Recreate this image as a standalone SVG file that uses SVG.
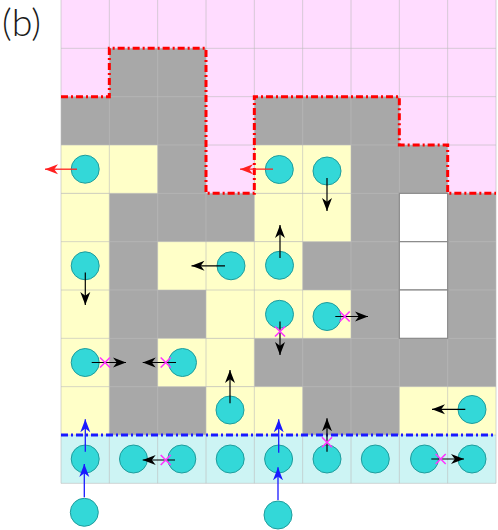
<svg xmlns="http://www.w3.org/2000/svg" width="498" height="530" viewBox="0 0 498 530">
<style>
.g{fill:#a8a8a8}
.p{fill:#ffdcff}
.y{fill:#ffffc8}
.c{fill:#cdf4f4}
.w{fill:#ffffff;stroke:#8a8a8a;stroke-width:1.2}
.grid{fill:none;stroke:#bcbcbc;stroke-opacity:0.6;stroke-width:1}
.node circle{fill:#33d8d8;stroke:#1f9c9c;stroke-width:1}
.ab{stroke:#000;stroke-width:1.2;fill:none;marker-end:url(#mb)}
.ar{stroke:#ff2020;stroke-width:1.3;fill:none;marker-end:url(#mr)}
.au{stroke:#1a1aff;stroke-width:1.3;fill:none;marker-end:url(#mu)}
.x{stroke:#ff33ff;stroke-width:1.6;fill:none}
.lbl{font-family:"Lato","Liberation Sans",sans-serif;font-weight:300;font-size:37px;fill:#1a1a1a}
</style>
<defs>
<marker id="mb" markerUnits="userSpaceOnUse" markerWidth="14" markerHeight="11" refX="13" refY="5.5" orient="auto"><path d="M0,0.5 L13,5.5 L0,10.5 L3.8,5.5 Z" fill="#000"/></marker>
<marker id="mr" markerUnits="userSpaceOnUse" markerWidth="14" markerHeight="11" refX="13" refY="5.5" orient="auto"><path d="M0,0.5 L13,5.5 L0,10.5 L3.8,5.5 Z" fill="#ff2020"/></marker>
<marker id="mu" markerUnits="userSpaceOnUse" markerWidth="14" markerHeight="11" refX="13" refY="5.5" orient="auto"><path d="M0,0.5 L13,5.5 L0,10.5 L3.8,5.5 Z" fill="#1a1aff"/></marker>
</defs>
<text class="lbl" x="2" y="36" textLength="39" lengthAdjust="spacingAndGlyphs">(b)</text>
<g id="cells">
<rect class="g" x="61" y="0" width="435" height="435"/>
<path class="p" d="M61,0 H496 V193.33 H447.67 V145 H399.33 V96.67 H254.33 V193.33 H206 V48.33 H109.33 V96.67 H61 Z"/>
<rect class="y" x="61" y="145" width="96.67" height="48.33"/>
<rect class="y" x="254.33" y="145" width="96.67" height="48.33"/>
<rect class="y" x="61" y="193.33" width="48.33" height="241.67"/>
<rect class="y" x="254.33" y="193.33" width="96.67" height="48.33"/>
<rect class="y" x="157.67" y="241.67" width="145" height="48.33"/>
<rect class="y" x="206" y="290" width="145" height="48.33"/>
<rect class="y" x="157.67" y="338.33" width="96.67" height="48.33"/>
<rect class="y" x="206" y="386.67" width="96.67" height="48.33"/>
<rect class="y" x="399.33" y="386.67" width="96.67" height="48.33"/>
<rect class="c" x="61" y="435" width="435" height="48.33"/>
<path class="grid" d="M109.33,0V483.33M157.67,0V483.33M206,0V483.33M254.33,0V483.33M302.67,0V483.33M351,0V483.33M399.33,0V483.33M447.67,0V483.33M61,0V483.33M496,0V483.33M61,48.33H496M61,96.67H496M61,145H496M61,193.33H496M61,241.67H496M61,290H496M61,338.33H496M61,386.67H496M61,435H496M61,483.33H496"/>
<rect class="w" x="399.33" y="193.33" width="48.33" height="48.33"/>
<rect class="w" x="399.33" y="241.67" width="48.33" height="48.33"/>
<rect class="w" x="399.33" y="290" width="48.33" height="48.33"/>
</g>
<g id="boundaries">
<path d="M61,96.67 H109.33 V48.33 H206 V193.33 H254.33 V96.67 H399.33 V145 H447.67 V193.33 H496" fill="none" stroke="#ff0000" stroke-width="3" stroke-dasharray="7,3,2,3"/>
<path d="M61,435 H496" fill="none" stroke="#1a1aff" stroke-width="3" stroke-dasharray="7,3,2,3"/>
</g>
<g id="nodes">
<g id="n-r3c0" class="node"><circle cx="85.2" cy="169.2" r="14"/></g>
<g id="n-r3c4" class="node"><circle cx="279.3" cy="169.5" r="14"/></g>
<g id="n-r3c5" class="node"><circle cx="327" cy="171" r="14"/></g>
<g id="n-r5c0" class="node"><circle cx="85.2" cy="265.8" r="14"/></g>
<g id="n-r5c3" class="node"><circle cx="231" cy="265.8" r="14"/></g>
<g id="n-r5c4" class="node"><circle cx="279.5" cy="265.3" r="14"/></g>
<g id="n-r6c4" class="node"><circle cx="279.5" cy="314.3" r="14"/></g>
<g id="n-r6c5" class="node"><circle cx="327" cy="316.5" r="14"/></g>
<g id="n-r7c0" class="node"><circle cx="85.2" cy="362.5" r="14"/></g>
<g id="n-r7c2" class="node"><circle cx="182.5" cy="362.5" r="14"/></g>
<g id="n-r8c3" class="node"><circle cx="230" cy="410" r="14"/></g>
<g id="n-r8c8" class="node"><circle cx="472" cy="409.5" r="14"/></g>
<g id="n-r9c0" class="node"><circle cx="85.2" cy="459" r="14"/></g>
<g id="n-r9c1" class="node"><circle cx="133.5" cy="459" r="14"/></g>
<g id="n-r9c2" class="node"><circle cx="181.8" cy="459" r="14"/></g>
<g id="n-r9c3" class="node"><circle cx="230.2" cy="459" r="14"/></g>
<g id="n-r9c4" class="node"><circle cx="278.6" cy="459" r="14"/></g>
<g id="n-r9c5" class="node"><circle cx="327" cy="459" r="14"/></g>
<g id="n-r9c6" class="node"><circle cx="375.3" cy="459" r="14"/></g>
<g id="n-r9c7" class="node"><circle cx="424.5" cy="459" r="14"/></g>
<g id="n-r9c8" class="node"><circle cx="472" cy="459" r="14"/></g>
<g id="n-in0" class="node"><circle cx="84.3" cy="512.3" r="14"/></g>
<g id="n-in4" class="node"><circle cx="278" cy="515" r="14"/></g>
</g>
<g id="connectors">
<path class="ar" d="M77,169.2 H45"/>
<path class="ar" d="M273,169.2 H240"/>
<path class="ab" d="M327,178 V211"/>
<path class="ab" d="M280,258 V225"/>
<path class="ab" d="M225,265.8 H191.5"/>
<path class="ab" d="M85.3,272.5 V305"/>
<path class="ab" d="M280,321.5 V355"/>
<path class="ab" d="M335.3,316.5 H368"/>
<path class="ab" d="M91.7,362.5 H126"/>
<path class="ab" d="M176,362.5 H142.7"/>
<path class="ab" d="M230,403.3 V370"/>
<path class="ab" d="M465.3,409.3 H432"/>
<path class="ab" d="M175,460 H142.7"/>
<path class="ab" d="M327,451.7 V418.3"/>
<path class="ab" d="M431.3,459 H464"/>
<path class="au" d="M85.3,451.7 V419.3"/>
<path class="au" d="M84.3,497.3 V464"/>
<path class="au" d="M278.7,452.7 V419.3"/>
<path class="au" d="M278,500 V467.3"/>
<path class="x" d="M275,326.5 l10,10 M285,326.5 l-10,10"/>
<path class="x" d="M339.7,311.5 l10,10 M349.7,311.5 l-10,10"/>
<path class="x" d="M100,357.5 l10,10 M110,357.5 l-10,10"/>
<path class="x" d="M160.7,357.5 l10,10 M170.7,357.5 l-10,10"/>
<path class="x" d="M160.7,455 l10,10 M170.7,455 l-10,10"/>
<path class="x" d="M322,437.3 l10,10 M332,437.3 l-10,10"/>
<path class="x" d="M435.7,454 l10,10 M445.7,454 l-10,10"/>
</g>
</svg>
